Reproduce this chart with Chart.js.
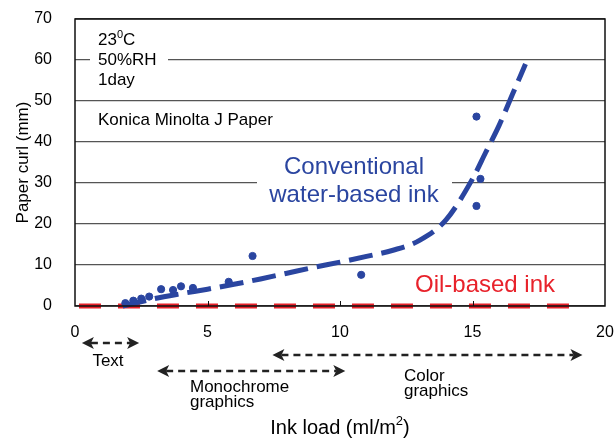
<!DOCTYPE html>
<html lang="en">
<head>
  <meta charset="UTF-8" />
  <title>Paper curl vs ink load</title>
  <script src="https://cdn.jsdelivr.net/npm/chart.js"></script>
  <style>
    html, body { margin: 0; padding: 0; background: #fff; }
    #wrap { width: 615px; height: 440px; }
  </style>
</head>
<body>
<div id="wrap"><canvas id="curlChart" width="615" height="440"></canvas></div>

<script>
// data ------------------------------------------------------
const xTicks = [0, 5, 10, 15, 20];
const yTicks = [0, 10, 20, 30, 40, 50, 60, 70];

// measured points, water-based ink
const measX = [1.9, 2.2, 2.5, 2.8, 3.25, 3.7, 4.0, 4.45, 5.8, 6.7, 10.8, 15.15, 15.3, 15.15];
const measY = [0.7, 1.3, 1.8, 2.3, 4.1, 3.9, 4.8, 4.4, 5.9, 12.2, 7.6, 46.2, 31.0, 24.4];

// fitted trend, water-based ink
const fitX = [1.8, 3, 4, 5, 6, 7, 8, 9, 10, 11, 12, 13, 14, 15, 15.5, 16, 16.5, 17];
const fitY = [0, 1.8, 3.0, 4.1, 5.3, 6.6, 8.0, 9.4, 10.7, 12.1, 13.6, 16.0, 21.0, 31.0, 37.5, 44.0, 51.5, 59.0];

// oil-based ink stays flat
const oilX = [0.15, 18.7];
const oilY = [0, 0];

// usage ranges under the x axis (ml/m2)
const rangeNames = ['Text', 'Monochrome graphics', 'Color graphics'];
const rangeFrom  = [0.26, 3.1, 7.45];
const rangeTo    = [2.42, 10.2, 19.15];

const blue = '#2a45a0';
const red  = '#e8222b';
const FONT = "'Liberation Sans', Arial, sans-serif";

const pts = (xs, ys) => xs.map((x, i) => ({x, y: ys[i]}));

// helpers ----------------------------------------------------
function arrowHead(ctx, x, y, dir) {
  // chevron-like filled head, dir = +1 right, -1 left
  ctx.beginPath();
  ctx.moveTo(x, y);
  ctx.lineTo(x - dir * 12, y - 6);
  ctx.lineTo(x - dir * 9, y);
  ctx.lineTo(x - dir * 12, y + 6);
  ctx.closePath();
  ctx.fill();
}

function dashedArrow(ctx, x1, x2, y) {
  ctx.save();
  ctx.strokeStyle = '#222';
  ctx.fillStyle = '#222';
  ctx.lineWidth = 2.5;
  ctx.setLineDash([7, 5]);
  ctx.beginPath();
  ctx.moveTo(x1 + 9, y);
  ctx.lineTo(x2 - 9, y);
  ctx.stroke();
  ctx.setLineDash([]);
  arrowHead(ctx, x1, y, -1);
  arrowHead(ctx, x2, y, 1);
  ctx.restore();
}

// plugin: white boxes, frame, labels ------------------------
const decor = {
  id: 'decor',
  beforeDatasetsDraw(chart) {
    const ctx = chart.ctx;
    ctx.save();
    ctx.fillStyle = '#fff';
    ctx.fillRect(90, 30, 78, 60);     // behind 23C / 50%RH / 1day
    ctx.fillRect(257, 152, 195, 58);  // behind the water-based label
    ctx.restore();
  },
  afterDraw(chart) {
    const {ctx, chartArea: a, scales} = chart;
    const sx = scales.x;
    ctx.save();

    // frame
    ctx.strokeStyle = '#111';
    ctx.lineWidth = 1.5;
    ctx.strokeRect(a.left, a.top, a.right - a.left, a.bottom - a.top);

    // small inward ticks on x axis
    ctx.lineWidth = 1;
    xTicks.slice(1, -1).forEach(v => {
      const px = Math.round(sx.getPixelForValue(v)) + 0.5;
      ctx.beginPath();
      ctx.moveTo(px, a.bottom);
      ctx.lineTo(px, a.bottom - 5);
      ctx.stroke();
    });

    // conditions box
    ctx.fillStyle = '#000';
    ctx.textBaseline = 'middle';
    ctx.textAlign = 'left';
    ctx.font = `17px ${FONT}`;
    ctx.fillText('23', 98, 40);
    const w23 = ctx.measureText('23').width;
    ctx.font = `11px ${FONT}`;
    ctx.fillText('0', 98 + w23, 35);
    const w0 = ctx.measureText('0').width;
    ctx.font = `17px ${FONT}`;
    ctx.fillText('C', 98 + w23 + w0, 40);
    ctx.fillText('50%RH', 98, 60);
    ctx.fillText('1day', 98, 80);
    ctx.fillText('Konica Minolta J Paper', 98, 120);

    // series labels
    ctx.font = `24px ${FONT}`;
    ctx.textAlign = 'center';
    ctx.fillStyle = blue;
    ctx.fillText('Conventional', 354, 167);
    ctx.fillText('water-based ink', 354, 195);
    ctx.fillStyle = red;
    ctx.fillText('Oil-based ink', 485, 285);

    // usage ranges
    const rows = [343, 371, 355];
    rangeNames.forEach((n, i) => {
      dashedArrow(ctx, sx.getPixelForValue(rangeFrom[i]), sx.getPixelForValue(rangeTo[i]), rows[i]);
    });
    ctx.fillStyle = '#000';
    ctx.font = `17px ${FONT}`;
    ctx.textAlign = 'center';
    ctx.fillText('Text', 108, 361);
    ctx.textAlign = 'left';
    ctx.fillText('Monochrome', 190, 387);
    ctx.fillText('graphics', 190, 402);
    ctx.fillText('Color', 404, 376);
    ctx.fillText('graphics', 404, 391);

    // x title
    const cx = (a.left + a.right) / 2;
    const t1 = 'Ink load (ml/m', t2 = ')';
    ctx.font = `20px ${FONT}`;
    const w1 = ctx.measureText(t1).width, w2 = ctx.measureText(t2).width;
    ctx.font = `13px ${FONT}`;
    const ws = ctx.measureText('2').width;
    const x0 = cx - (w1 + ws + w2) / 2;
    ctx.textAlign = 'left';
    ctx.font = `20px ${FONT}`;
    ctx.fillText(t1, x0, 428);
    ctx.fillText(t2, x0 + w1 + ws, 428);
    ctx.font = `13px ${FONT}`;
    ctx.fillText('2', x0 + w1, 421);

    ctx.restore();
  }
};

// chart -----------------------------------------------------
new Chart(document.getElementById('curlChart'), {
  type: 'scatter',
  data: {
    datasets: [
      {
        label: 'Water-based fit',
        type: 'line',
        data: pts(fitX, fitY),
        borderColor: blue,
        borderWidth: 5,
        borderDash: [24, 9],
        pointRadius: 0,
        cubicInterpolationMode: 'monotone',
        fill: false,
        clip: false
      },
      {
        label: 'Water-based ink',
        data: pts(measX, measY),
        backgroundColor: blue,
        borderColor: blue,
        pointRadius: 3.6
      },
      {
        label: 'Oil-based ink',
        type: 'line',
        data: pts(oilX, oilY),
        borderColor: red,
        borderWidth: 5,
        borderDash: [22, 17],
        pointRadius: 0,
        fill: false,
        clip: false
      }
    ]
  },
  options: {
    responsive: false,
    animation: false,
    layout: {padding: {top: 19, right: 10, left: 0, bottom: 0}},
    plugins: {legend: {display: false}, tooltip: {enabled: false}},
    scales: {
      x: {
        type: 'linear',
        min: 0, max: 20,
        afterBuildTicks: s => { s.ticks = xTicks.map(v => ({value: v})); },
        afterFit: s => { s.height = 134; s.paddingLeft = 0; s.paddingRight = 0; },
        grid: {display: false, drawTicks: false},
        border: {display: false},
        ticks: {color: '#000', font: {family: FONT, size: 16}, padding: 17, maxRotation: 0}
      },
      y: {
        min: 0, max: 70,
        afterBuildTicks: s => { s.ticks = yTicks.map(v => ({value: v})); },
        afterFit: s => { s.width = 75; s.paddingTop = 0; s.paddingBottom = 0; },
        grid: {color: '#555', lineWidth: 1.3, drawTicks: false},
        border: {display: false},
        ticks: {color: '#000', font: {family: FONT, size: 16}, padding: 23},
        title: {
          display: true,
          text: 'Paper curl (mm)',
          color: '#000',
          font: {family: FONT, size: 17},
          padding: {top: 13, bottom: 0}
        }
      }
    }
  },
  plugins: [decor]
});
</script>
</body>
</html>
